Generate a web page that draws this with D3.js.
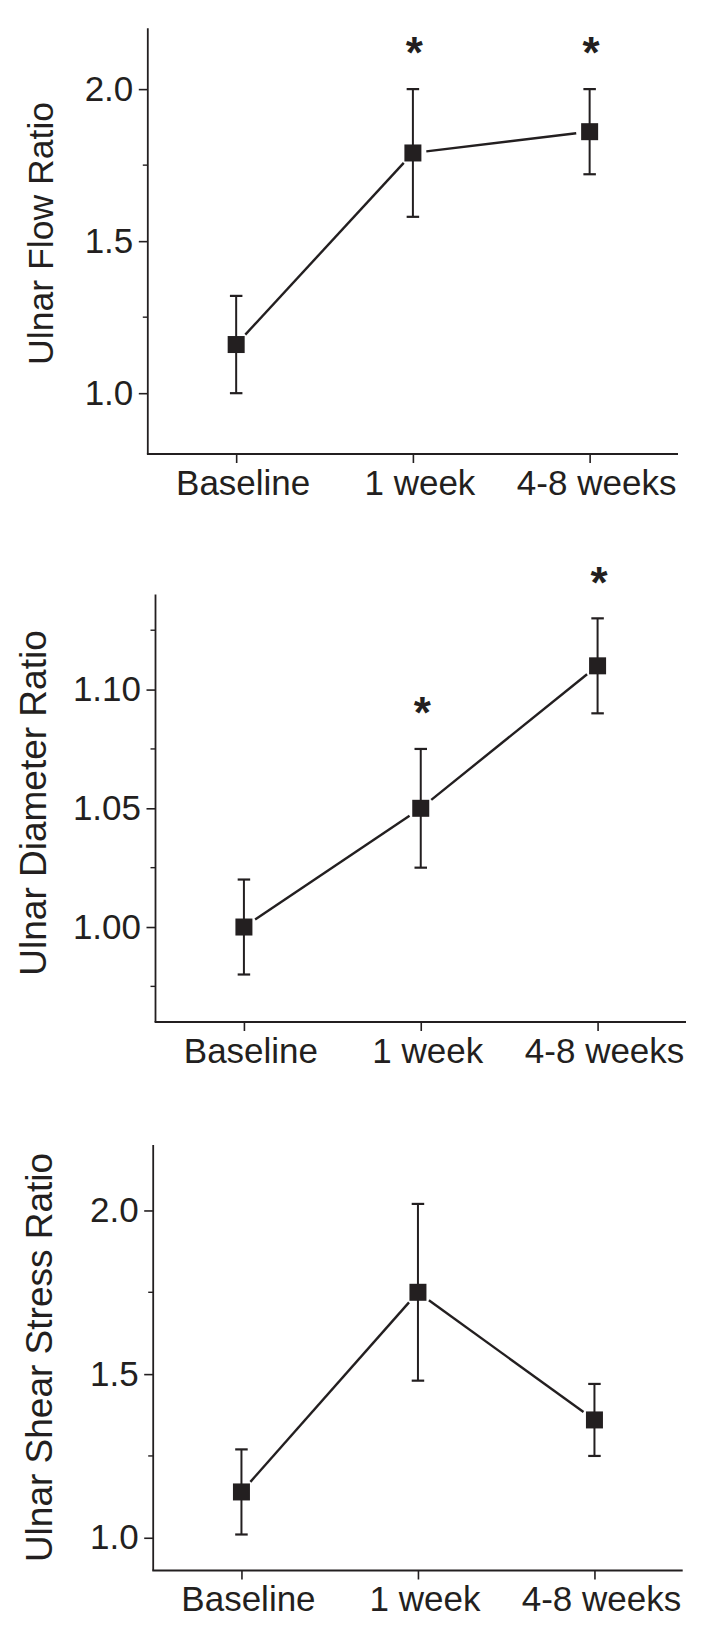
<!DOCTYPE html>
<html>
<head>
<meta charset="utf-8">
<script src="https://cdn.jsdelivr.net/npm/d3@7"></script>
<style>
  html, body { margin: 0; padding: 0; background: #ffffff; }
  svg { display: block; }
  text { font-family: "Liberation Sans", Arial, Helvetica, sans-serif; fill: #231f20; }
</style>
</head>
<body>
<svg id="chart" width="703" height="1630"></svg>
<script>
// ---------------- data ----------------
const categories = ["Baseline", "1 week", "4-8 weeks"];

const flowMean = [1.16, 1.79, 1.86];
const flowLow  = [1.00, 1.58, 1.72];
const flowHigh = [1.32, 2.00, 2.00];
const flowSig  = [false, true, true];
const flowTicks = [1.0, 1.5, 2.0];
const flowMinorTicks = [1.25, 1.75];

const diameterMean = [1.00, 1.05, 1.11];
const diameterLow  = [0.98, 1.025, 1.09];
const diameterHigh = [1.02, 1.075, 1.13];
const diameterSig  = [false, true, true];
const diameterTicks = [1.00, 1.05, 1.10];
const diameterMinorTicks = [0.975, 1.025, 1.075, 1.125];

const shearMean = [1.14, 1.75, 1.36];
const shearLow  = [1.01, 1.48, 1.25];
const shearHigh = [1.27, 2.02, 1.47];
const shearSig  = [false, false, false];
const shearTicks = [1.0, 1.5, 2.0];
const shearMinorTicks = [1.25, 1.75];

const yTitles = ["Ulnar Flow Ratio", "Ulnar Diameter Ratio", "Ulnar Shear Stress Ratio"];

// ---------------- layout ----------------
const INK = "#231f20";
const panels = [
  { title: yTitles[0], mean: flowMean, low: flowLow, high: flowHigh, sig: flowSig,
    ticks: flowTicks, minor: flowMinorTicks, fmt: d3.format(".1f"), domain: [0.8, 2.2],
    left: 147.8, right: 678, top: 28.3, bottom: 454, labelX: 52.7, labelY: 233.4, labelFs: 35.6 },
  { title: yTitles[1], mean: diameterMean, low: diameterLow, high: diameterHigh, sig: diameterSig,
    ticks: diameterTicks, minor: diameterMinorTicks, fmt: d3.format(".2f"), domain: [0.96, 1.14],
    left: 155.5, right: 686, top: 594.6, bottom: 1022, labelX: 46.4, labelY: 803, labelFs: 37 },
  { title: yTitles[2], mean: shearMean, low: shearLow, high: shearHigh, sig: shearSig,
    ticks: shearTicks, minor: shearMinorTicks, fmt: d3.format(".1f"), domain: [0.9, 2.2],
    left: 153.2, right: 682.7, top: 1145, bottom: 1570.5, labelX: 51.8, labelY: 1357.5, labelFs: 37 }
];

const svg = d3.select("#chart");
const FS = 35;
const markerSize = 17;
const lineGap = 13.5;
const capW = 12.5;

panels.forEach(p => {
  const g = svg.append("g");
  const x = d3.scalePoint().domain(categories).range([p.left, p.right]).padding(0.5);
  const y = d3.scaleLinear().domain(p.domain).range([p.bottom, p.top]);

  // y axis (major)
  const yAxis = g.append("g")
    .attr("transform", `translate(${p.left},0)`)
    .call(d3.axisLeft(y).tickValues(p.ticks).tickFormat(p.fmt).tickSize(9).tickPadding(5.5).tickSizeOuter(0));
  yAxis.select(".domain").remove();
  yAxis.selectAll(".tick line").attr("stroke", INK).attr("stroke-width", 1.6);
  yAxis.selectAll(".tick text").attr("font-size", FS).attr("fill", INK)
    .attr("font-family", "'Liberation Sans', Arial, sans-serif");

  // y minor ticks
  g.append("g").selectAll("line").data(p.minor).join("line")
    .attr("x1", p.left - 5).attr("x2", p.left)
    .attr("y1", d => y(d)).attr("y2", d => y(d))
    .attr("stroke", INK).attr("stroke-width", 1.4);

  // x axis
  const xAxis = g.append("g")
    .attr("transform", `translate(0,${p.bottom})`)
    .call(d3.axisBottom(x).tickSize(9).tickSizeOuter(0));
  xAxis.select(".domain").remove();
  xAxis.selectAll(".tick line").attr("stroke", INK).attr("stroke-width", 1.6);
  xAxis.selectAll(".tick text").attr("font-size", FS).attr("fill", INK)
    .attr("font-family", "'Liberation Sans', Arial, sans-serif")
    .attr("y", 40.5).attr("dy", 0).attr("dx", 6.5);

  // axis lines
  g.append("line").attr("x1", p.left).attr("x2", p.left).attr("y1", p.top).attr("y2", p.bottom)
    .attr("stroke", INK).attr("stroke-width", 1.8);
  g.append("line").attr("x1", p.left - 0.9).attr("x2", p.right).attr("y1", p.bottom).attr("y2", p.bottom)
    .attr("stroke", INK).attr("stroke-width", 1.8);

  // y title
  g.append("text")
    .attr("transform", `translate(${p.labelX},${p.labelY}) rotate(-90)`)
    .attr("text-anchor", "middle")
    .attr("font-size", p.labelFs)
    .text(p.title);

  const pts = categories.map((c, i) => ({ c, i, cx: x(c), cy: y(p.mean[i]) }));

  // connecting line segments with gaps around markers
  const segs = d3.pairs(pts).map(([a, b]) => {
    const dx = b.cx - a.cx, dy = b.cy - a.cy, len = Math.hypot(dx, dy);
    const ux = dx / len, uy = dy / len;
    return { x1: a.cx + ux * lineGap, y1: a.cy + uy * lineGap, x2: b.cx - ux * lineGap, y2: b.cy - uy * lineGap };
  });
  g.append("g").selectAll("line").data(segs).join("line")
    .attr("x1", d => d.x1).attr("y1", d => d.y1).attr("x2", d => d.x2).attr("y2", d => d.y2)
    .attr("stroke", INK).attr("stroke-width", 2.4);

  // error bars
  const eb = g.append("g").selectAll("g").data(pts).join("g");
  eb.append("line")
    .attr("x1", d => d.cx).attr("x2", d => d.cx)
    .attr("y1", d => y(p.high[d.i])).attr("y2", d => y(p.low[d.i]))
    .attr("stroke", INK).attr("stroke-width", 2);
  eb.append("line")
    .attr("x1", d => d.cx - capW / 2).attr("x2", d => d.cx + capW / 2)
    .attr("y1", d => y(p.high[d.i])).attr("y2", d => y(p.high[d.i]))
    .attr("stroke", INK).attr("stroke-width", 2.2);
  eb.append("line")
    .attr("x1", d => d.cx - capW / 2).attr("x2", d => d.cx + capW / 2)
    .attr("y1", d => y(p.low[d.i])).attr("y2", d => y(p.low[d.i]))
    .attr("stroke", INK).attr("stroke-width", 2.2);

  // markers
  g.append("g").selectAll("rect").data(pts).join("rect")
    .attr("x", d => d.cx - markerSize / 2).attr("y", d => d.cy - markerSize / 2)
    .attr("width", markerSize).attr("height", markerSize)
    .attr("fill", INK);

  // significance asterisks
  const astFs = 44;
  g.append("g").selectAll("text").data(pts.filter(d => p.sig[d.i])).join("text")
    .attr("x", d => d.cx + 1.5)
    .attr("y", d => y(p.high[d.i]) - 45 + 0.55 * astFs)
    .attr("text-anchor", "middle")
    .attr("font-weight", "bold")
    .attr("font-size", astFs)
    .text("*");
});
</script>
</body>
</html>
